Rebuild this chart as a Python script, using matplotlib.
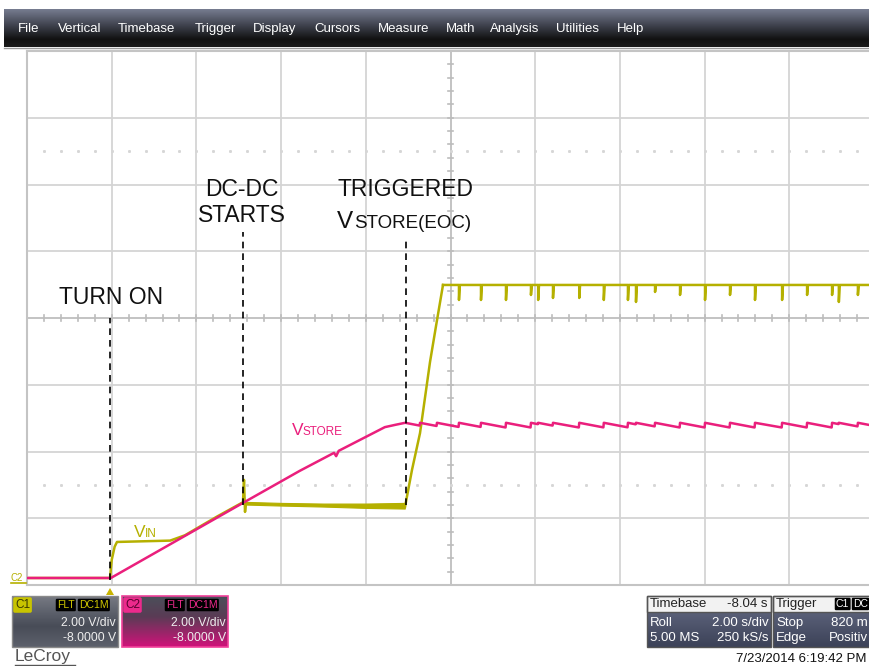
import matplotlib.pyplot as plt
import numpy as np
from matplotlib.patches import Rectangle, Polygon

plt.rcParams['font.family'] = ['Liberation Sans', 'DejaVu Sans']

# ---- traces: time in s (2 s/div), volts (2 V/div, 0 V at bottom)
vin_t = [0.0, 1.96, 2.0, 2.07, 2.125, 3.38, 3.73, 4.5, 5.10, 5.124, 5.148, 5.171]
vin_v = [0.21, 0.21, 0.75, 1.15, 1.29, 1.33, 1.49, 2.06, 2.48, 3.15, 2.19, 2.46]
band_t = [5.17, 6.0, 7.0, 8.0, 8.92]
band_hi = [2.49, 2.46, 2.44, 2.44, 2.46]
band_lo = [2.41, 2.38, 2.35, 2.31, 2.29]
rise_t = [8.926, 9.091, 9.280, 9.516, 9.658, 9.823]
rise_v = [2.34, 3.45, 4.55, 6.68, 7.76, 8.99]
vin_top = 8.99
spike_t = [10.20, 10.72, 11.31, 11.90, 12.07, 12.42, 13.04, 13.62, 14.19, 14.38,
           14.83, 15.42, 16.01, 16.60, 17.19, 17.83, 18.42, 19.01, 19.17, 19.62]
spike_v = [8.54, 8.54, 8.54, 8.69, 8.54, 8.60, 8.60, 8.54, 8.54, 8.48,
           8.78, 8.69, 8.54, 8.69, 8.54, 8.54, 8.69, 8.69, 8.48, 8.69]

store_t = [0.0, 1.98, 5.10, 6.44, 7.25, 7.30, 7.36, 8.45, 8.70, 8.93]
store_v = [0.21, 0.21, 2.46, 3.42, 3.96, 3.86, 4.02, 4.73, 4.80, 4.86]
tooth_t = [8.93, 9.28, 9.68] + spike_t
store_hi = 4.86
store_lo = 4.72

yellow = '#b5b000'
pink = '#ea1f7c'

fig = plt.figure(figsize=(8.7, 6.66), dpi=100)
fig.patch.set_facecolor('white')

# ---- scope grid
ax = fig.add_axes([27 / 870, 81 / 666, 847 / 870, 534 / 666], zorder=1)
ax.set_xlim(0, 20)
ax.set_ylim(0, 16)
ax.set_xticks([])
ax.set_yticks([])
for s in ax.spines.values():
    s.set_color('#c4c4c4')
    s.set_linewidth(1.5)
for x in range(2, 20, 2):
    ax.axvline(x, color='#d4d4d4', lw=1.3, zorder=0)
for y in range(2, 16, 2):
    ax.axhline(y, color='#d4d4d4', lw=1.3, zorder=0)
ax.axvline(10, color='#c4c4c4', lw=1.4, zorder=0)
ax.axhline(8, color='#c4c4c4', lw=1.4, zorder=0)
for y in np.arange(0, 16.01, 0.4):
    ax.plot([9.93, 10.07], [y, y], color='#bcbcbc', lw=1.2, zorder=0)
for x in np.arange(0, 20.01, 0.4):
    ax.plot([x, x], [7.91, 8.09], color='#bcbcbc', lw=1.2, zorder=0)
dots = np.arange(0.4, 20, 0.4)
for y in (3, 13):
    ax.plot(dots, np.full(len(dots), y), ls='none', marker='s', ms=1.1,
            color='#d6d6d6', zorder=0)

# ---- VIN (C1)
ax.plot(vin_t, vin_v, color=yellow, lw=1.8, zorder=2)
ax.fill_between(band_t, band_lo, band_hi, color=yellow, lw=0.8, zorder=2)
ax.plot(rise_t, rise_v, color=yellow, lw=1.8, zorder=2)
tt = [rise_t[-1]]
vv = [vin_top]
for t, v in zip(spike_t, spike_v):
    tt += [t, t, t + 0.02]
    vv += [vin_top, v, vin_top]
tt.append(20.2)
vv.append(vin_top)
ax.plot(tt, vv, color=yellow, lw=1.8, zorder=2)

# ---- VSTORE (C2)
st = list(store_t)
sv = list(store_v)
edges = tooth_t + [20.2]
for a, b in zip(edges[:-1], edges[1:]):
    low = store_hi - (store_hi - store_lo) * min(1.0, (b - a) / 0.59)
    st += [a, b - 0.01]
    sv += [store_hi, low]
ax.plot(st, sv, color=pink, lw=1.8, zorder=3)

# ---- event markers
for t, v0, v1 in [(1.96, 0.15, 8.0), (5.10, 2.40, 10.58), (8.95, 2.40, 10.4)]:
    ax.plot([t, t], [v0, v1], color='black', lw=1.2, ls=(0, (4, 3)), zorder=4)

# ---- screen furniture in pixel coordinates
ov = fig.add_axes([0, 0, 1, 1], zorder=2)
ov.patch.set_visible(False)
ov.axis('off')


def grad(x0, x1, y0, y1, stops):
    pos = np.linspace(0, 1, 60)
    cols = np.array([[int(c[i:i + 2], 16) / 255 for i in (1, 3, 5)] for _, c in stops])
    ps = [p for p, _ in stops]
    img = np.stack([np.interp(pos, ps, cols[:, k]) for k in range(3)], axis=1)
    ov.imshow(img[:, None, :], extent=(x0, x1, y1, y0), aspect='auto',
              interpolation='bilinear', zorder=1)


# menu bar
grad(4, 870, 9, 47, [(0, '#767c90'), (0.45, '#3c3f4a'), (0.8, '#111111'), (1, '#1a1a1a')])
ov.plot([4, 870], [47.5, 47.5], color='#9a9a9a', lw=1)
menu = ['File', 'Vertical', 'Timebase', 'Trigger', 'Display', 'Cursors',
        'Measure', 'Math', 'Analysis', 'Utilities', 'Help']
menu_x = [18, 58, 118, 195, 253, 314, 378, 446, 490, 556, 617]
for m, x in zip(menu, menu_x):
    ov.text(x, 29, m, color='white', fontsize=9.5, va='center', ha='left', zorder=3)

# annotations
ink = '#111111'
ov.text(111, 297, 'TURN ON', fontsize=16.5, ha='center', va='center', color=ink)
ov.text(242, 189, 'DC-DC', fontsize=16.5, ha='center', va='center', color=ink)
ov.text(242, 216, 'STARTS', fontsize=16.5, ha='center', va='center', color=ink)
ov.text(338, 189, 'TRIGGERED', fontsize=16.5, ha='left', va='center', color=ink)
ov.text(337, 228, 'V', fontsize=17.5, ha='left', va='baseline', color=ink)
ov.text(354, 228, 'STORE(EOC)', fontsize=13.5, ha='left', va='baseline', color=ink)
ov.text(292, 435, 'V', fontsize=12.5, ha='left', va='baseline', color=pink)
ov.text(303, 435, 'STORE', fontsize=8.5, ha='left', va='baseline', color=pink)
ov.text(134, 537, 'V', fontsize=12.5, ha='left', va='baseline', color=yellow)
ov.text(145, 537, 'IN', fontsize=8.5, ha='left', va='baseline', color=yellow)

# ground / trigger markers
ov.text(11, 578, 'C2', fontsize=7, color=yellow, va='center', ha='left', rotation=0)
ov.plot([11, 26], [583, 583], color=yellow, lw=1.2)
ov.add_patch(Polygon([(106, 595), (114, 595), (110, 588)], closed=True, fc='#c8b400', ec='none'))

# channel panels
grad(12, 118, 596, 647, [(0, '#777a83'), (0.35, '#5a5e69'), (0.6, '#484c57'), (1, '#5d616c')])
ov.add_patch(Rectangle((12, 596), 106, 51, fill=False, ec='#8a8a8a', lw=1, zorder=2))
grad(122, 228, 596, 647, [(0, '#4b4f5a'), (0.4, '#5a3c55'), (1, '#d0127a')])
ov.add_patch(Rectangle((122, 596), 106, 51, fill=False, ec='#f0409a', lw=1.2, zorder=2))

bx = dict(boxstyle='round,pad=0.12', fc='black', ec='none')
ov.text(15, 605, 'C1', fontsize=8.5, color='#3a3a00', va='center', zorder=3,
        bbox=dict(boxstyle='round,pad=0.15', fc='#c8c400', ec='none'))
ov.text(57, 605, 'FLT', fontsize=7.5, color='#d0c800', va='center', zorder=3, bbox=bx)
ov.text(79, 605, 'DC1M', fontsize=7.5, color='#d0c800', va='center', zorder=3, bbox=bx)
ov.text(125, 605, 'C2', fontsize=8.5, color='#5a0030', va='center', zorder=3,
        bbox=dict(boxstyle='round,pad=0.15', fc='#ec2a8c', ec='none'))
ov.text(166, 605, 'FLT', fontsize=7.5, color='#ec2a8c', va='center', zorder=3, bbox=bx)
ov.text(188, 605, 'DC1M', fontsize=7.5, color='#ec2a8c', va='center', zorder=3, bbox=bx)
for x1 in (116, 226):
    ov.text(x1, 623, '2.00 V/div', fontsize=8.8, color='#eeeeee', ha='right', va='center', zorder=3)
    ov.text(x1, 638, '-8.0000 V', fontsize=8.8, color='#eeeeee', ha='right', va='center', zorder=3)

ov.text(15, 657, 'LeCroy', fontsize=12.5, color='#555555', va='center', ha='left')
ov.plot([15, 75], [665, 665], color='#555555', lw=1)

# timebase / trigger panels
for x0, w in ((647, 124), (773, 100)):
    ov.add_patch(Rectangle((x0, 596), w, 16, fc='#f2f2f2', ec='#555555', lw=1, zorder=2))
    grad(x0, x0 + w, 612, 647, [(0, '#5a6078'), (1, '#3c4258')])
    ov.add_patch(Rectangle((x0, 596), w, 51, fill=False, ec='#555555', lw=1, zorder=2))
fs = 9.5
ov.text(650, 604, 'Timebase', fontsize=fs, color='#222222', va='center', zorder=3)
ov.text(768, 604, '-8.04 s', fontsize=fs, color='#222222', va='center', ha='right', zorder=3)
ov.text(650, 623, 'Roll', fontsize=fs, color='white', va='center', zorder=3)
ov.text(769, 623, '2.00 s/div', fontsize=fs, color='white', va='center', ha='right', zorder=3)
ov.text(650, 638, '5.00 MS', fontsize=fs, color='white', va='center', zorder=3)
ov.text(769, 638, '250 kS/s', fontsize=fs, color='white', va='center', ha='right', zorder=3)
ov.text(776, 604, 'Trigger', fontsize=fs, color='#222222', va='center', zorder=3)
ov.text(836, 604, 'C1', fontsize=7.5, color='white', va='center', zorder=3, bbox=bx)
ov.text(853, 604, 'DC', fontsize=7.5, color='white', va='center', zorder=3, bbox=bx)
ov.text(776, 623, 'Stop', fontsize=fs, color='white', va='center', zorder=3)
ov.text(868, 623, '820 m', fontsize=fs, color='white', va='center', ha='right', zorder=3)
ov.text(776, 638, 'Edge', fontsize=fs, color='white', va='center', zorder=3)
ov.text(868, 638, 'Positiv', fontsize=fs, color='white', va='center', ha='right', zorder=3)
ov.text(867, 659, '7/23/2014 6:19:42 PM', fontsize=9.5, color='#111111', va='center', ha='right')

ov.set_xlim(0, 870)
ov.set_ylim(666, 0)

fig.savefig('out.png', dpi=100)
